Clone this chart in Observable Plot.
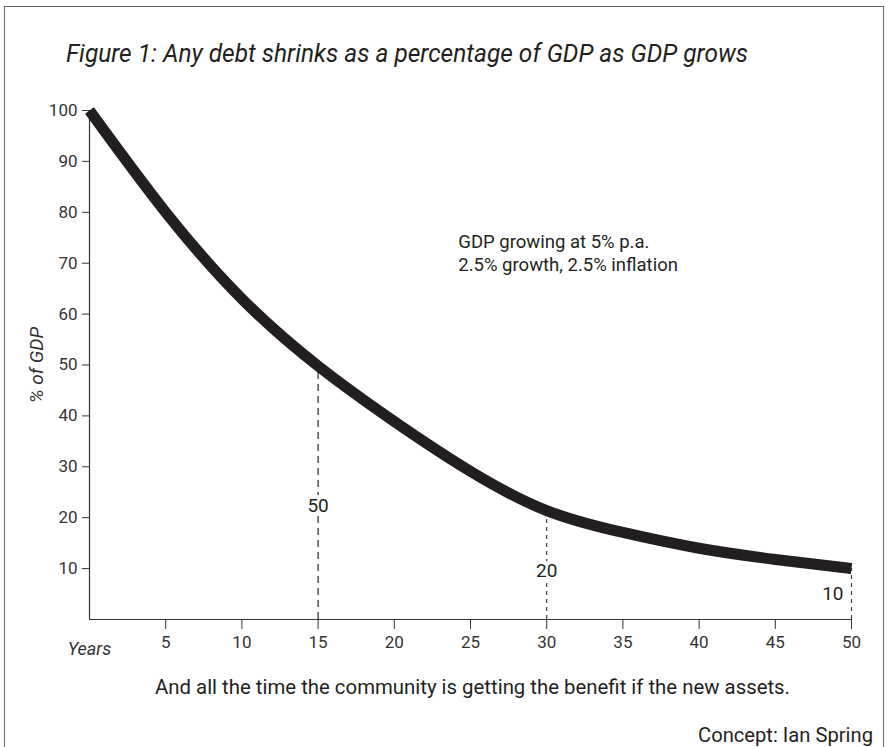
<!DOCTYPE html>
<html>
<head>
<meta charset="utf-8">
<script src="https://cdn.jsdelivr.net/npm/d3@7"></script>
<script src="https://cdn.jsdelivr.net/npm/@observablehq/plot@0.6"></script>
<style>
  html, body { margin: 0; padding: 0; background: #fff; }
  body { width: 888px; height: 747px; position: relative; overflow: hidden;
         font-family: Roboto, "Liberation Sans", sans-serif; color: #231f20; }
  #frame { position: absolute; left: 4px; top: 6px; width: 878px; height: 780px; border: 1.5px solid #666; }
  .fit { position: absolute; white-space: nowrap; line-height: 1.1; }
  #title { left: 66px; top: 40px; font-size: 25px; font-style: italic; transform-origin: left center; }
  #caption { left: 155px; top: 676px; font-size: 21px; transform-origin: left center; }
  #credit { left: 698px; top: 724px; font-size: 21px; transform-origin: left center; }
  #chart { position: absolute; left: 0; top: 90px; }
  [aria-label="y-axis label"] text { font-style: italic; font-size: 19px; }
</style>
</head>
<body>
<div id="frame"></div>
<div id="title" class="fit" data-w="682">Figure 1: Any debt shrinks as a percentage of GDP as GDP grows</div>
<div id="chart"></div>
<div id="caption" class="fit" data-w="635">And all the time the community is getting the benefit if the new assets.</div>
<div id="credit" class="fit" data-w="175">Concept: Ian Spring</div>
<script>
// Debt as % of GDP over years
const years = [0, 5, 10, 15, 20, 25, 30, 35, 40, 45, 50];
const pctOfGdp = [100, 80, 63, 49.8, 38.9, 29.1, 21.4, 17.1, 14.0, 11.8, 10];

// Marked years with dashed drop lines and their labels
const markYears = [15, 30, 50];
const markValues = [49.8, 21.4, 10];
const markLabels = ["50", "20", "10"];
const markLabelAt = [22.3, 9.5, 5];

const xTicks = [5, 10, 15, 20, 25, 30, 35, 40, 45, 50];
const yTicks = [10, 20, 30, 40, 50, 60, 70, 80, 90, 100];

const noteLines = ["GDP growing at 5% p.a.", "2.5% growth, 2.5% inflation"];

const series = years.map((y, i) => ({year: y, pct: pctOfGdp[i]}));
const marks = markYears.map((y, i) => ({year: y, value: markValues[i], label: markLabels[i], at: markLabelAt[i]}));

const ink = "#231f20";
const chart = Plot.plot({
  width: 888,
  height: 570,
  marginLeft: 89,
  marginRight: 37,
  marginTop: 20,
  marginBottom: 41,
  style: {fontSize: "17px", fontFamily: 'Roboto, "Liberation Sans", sans-serif', color: "#333", background: "transparent"},
  x: {domain: [0, 50]},
  y: {domain: [0, 100]},
  marks: [
    Plot.axisY({ticks: yTicks, tickSize: 7, tickPadding: 5, label: "% of GDP", labelAnchor: "center", labelArrow: "none", labelOffset: 60, stroke: "#333"}),
    Plot.axisX({ticks: xTicks, tickSize: 10, tickPadding: 6, label: null, stroke: "#333"}),
    Plot.text(["Years"], {x: 0, y: 0, text: d => d, dy: 30, fontStyle: "italic", fill: "#333", fontSize: 18}),
    Plot.ruleX([0], {y1: 0, y2: 100, stroke: "#333", strokeWidth: 1.2}),
    Plot.ruleY([0], {x1: 0, x2: 50, stroke: "#333", strokeWidth: 1.2}),
    Plot.ruleX(marks.filter(d => d.year === 15), {x: "year", y1: 0, y2: "value", stroke: "#333", strokeWidth: 1.3, strokeDasharray: "7,5"}),
    Plot.ruleX(marks.filter(d => d.year !== 15), {x: "year", y1: 0, y2: "value", stroke: "#444", strokeWidth: 1.2, strokeDasharray: "4,4"}),
    Plot.text(marks.filter(d => d.year !== 50), {x: "year", y: "at", text: "label", fill: ink, stroke: "white", strokeWidth: 8, fontSize: 19}),
    Plot.text(marks.filter(d => d.year === 50), {x: "year", y: "at", text: "label", fill: ink, textAnchor: "end", dx: -8, fontSize: 19}),
    Plot.line(series, {x: "year", y: "pct", curve: "natural", stroke: ink, strokeWidth: 11, strokeLinecap: "butt"}),
    Plot.text([noteLines.join("\n")], {x: 24.2, y: 72.2, text: d => d, textAnchor: "start", lineAnchor: "middle", lineHeight: 1.25, fill: ink, fontSize: 18.5})
  ]
});
document.getElementById("chart").appendChild(chart);

// squeeze the HTML texts to the condensed widths of the original typeface
document.querySelectorAll(".fit").forEach(el => {
  const w = el.getBoundingClientRect().width;
  const target = +el.dataset.w;
  if (w > 0) el.style.transform = `scaleX(${target / w})`;
});
</script>
</body>
</html>
